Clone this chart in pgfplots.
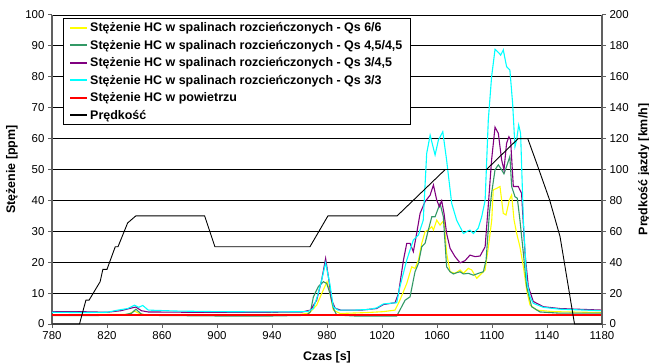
\documentclass[border=0pt]{standalone}
\usepackage{pgfplots}
\pgfplotsset{compat=1.18}
\usepackage{fontspec}
\setmainfont{Liberation Sans}
\definecolor{cyellow}{HTML}{FFFF00}
\definecolor{cgreen}{HTML}{339966}
\definecolor{cpurple}{HTML}{800080}
\definecolor{ccyan}{HTML}{00FFFF}
\definecolor{cred}{HTML}{FF0000}
\definecolor{axgray}{HTML}{606060}
\begin{document}
\begin{tikzpicture}
\pgfplotsset{
  every axis/.append style={
    scale only axis, width=550bp, height=309bp,
    xmin=780, xmax=1180,
    tick align=outside, major tick length=4bp,
    tick style={axgray, line width=1bp},
    axis line style={axgray, line width=1.3bp},
    /pgf/number format/assume math mode=true,
    /pgf/number format/1000 sep={},
    tick label style={font=\fontsize{11.5}{13}\selectfont},
    label style={font=\bfseries\fontsize{12.5}{14}\selectfont},
  }
}
\begin{axis}[
  name=ax,
  ymin=0, ymax=100,
  axis x line*=bottom, axis y line*=left,
  xtick={780,820,...,1180}, ytick={0,10,...,100},
  ymajorgrids, major grid style={black, line width=0.8bp},
  xlabel={Czas [s]}, ylabel={Stężenie [ppm]},
  xlabel style={at={(axis description cs:0.5,0)}, anchor=center, yshift=-33bp},
  ylabel style={at={(axis description cs:0,0.5)}, anchor=center, yshift=40bp},
  legend cell align=left,
  legend image code/.code={\draw[#1, line width=1.8bp] (7bp,0bp) -- (24bp,0bp);},
  legend style={at={(0.02,0.99)}, anchor=north west, draw=black, line width=0.9bp,
    fill=white, font=\bfseries\fontsize{12.5}{14}\selectfont, row sep=2.9bp, inner xsep=6bp},
]
\addplot[cyellow, line width=1.1bp] coordinates {(780,3.0)(835,3.1)(840,4.2)(843,3.5)(847,3)(900,3.0)(960,3.1)(967,3.5)(972.5,6.1)(976.2,9.9)(980,13.7)(982.2,9.9)(984.6,4.5)(989.5,3.4)(1008.9,3.7)(1021,4)(1029.5,4.5)(1033,7.7)(1038,13.1)(1041.6,18.5)(1044,18)(1046.5,20.7)(1048.9,26.1)(1051.3,29.9)(1053.7,30.4)(1056.2,31.5)(1057.4,30.4)(1059.8,33.6)(1062.2,32)(1065.1,33.6)(1067,22.9)(1069.5,16.9)(1073.1,16.4)(1076.8,17.5)(1079.2,16.4)(1082.8,18)(1085.2,17.5)(1088.9,14.8)(1092.5,16.4)(1095,17.5)(1097.4,25)(1099.8,33.6)(1100.9,43.4)(1103.4,43.9)(1105.8,44.5)(1108.2,35.8)(1110.2,35.3)(1112.6,40.1)(1114.3,41.8)(1116,33.7)(1117.9,29.4)(1120.3,25)(1122.8,18.6)(1125.2,11)(1127.6,6.2)(1132.5,4.5)(1144.6,4)(1180,3.7)};
\addlegendentry{Stężenie HC w spalinach rozcieńczonych - Qs 6/6}
\addplot[cgreen, line width=1.1bp] coordinates {(780,2.7)(830,2.8)(838,3.5)(841,4.8)(845,3.2)(850,2.8)(900,2.6)(940,2.6)(965,2.8)(968,4)(970.1,8.8)(973.7,12.1)(977.4,13.7)(979.8,13.1)(982.2,9.9)(984.6,5.1)(987.1,2.9)(1000,2.6)(1030.7,2.6)(1033,4.5)(1036.8,7.7)(1040.4,8.8)(1044,16.9)(1046.5,19.6)(1048.9,25)(1051.3,26.1)(1053.7,30.4)(1056.2,34.7)(1058.6,34.7)(1062.2,39)(1064.6,34.7)(1067,18.5)(1069.5,16.9)(1071.9,16.2)(1074.3,16.6)(1076.8,16.9)(1079.2,16.2)(1082.8,16.4)(1086.5,15.8)(1090.1,16.4)(1093.7,16.9)(1095.7,20.7)(1098.1,35.8)(1099.7,42.3)(1102.2,49.9)(1104.6,51.5)(1107,49.9)(1108.7,48.6)(1110.6,51)(1113,54.2)(1114.3,44.5)(1116.7,41.2)(1118.4,40.7)(1120.3,33.7)(1122.8,22.9)(1125.2,12.1)(1128.8,5.6)(1134.9,3.9)(1149.4,3.5)(1180,3.5)};
\addlegendentry{Stężenie HC w spalinach rozcieńczonych - Qs 4,5/4,5}
\addplot[cpurple, line width=1.1bp] coordinates {(780,4.0)(800,4.0)(820,3.8)(830,4.3)(838,5.2)(841,5.5)(845,4.3)(850,3.9)(880,3.8)(940,3.8)(962,3.9)(968,4.5)(972.5,7.7)(976,14)(979,21.2)(981,15.3)(983.4,7.7)(985.9,5.1)(990,4.5)(1005,4.5)(1016,5)(1021,6.3)(1029.5,6.9)(1032,9.9)(1035.6,20.7)(1038,26.1)(1040.4,26.1)(1042.8,23.4)(1045.2,29.3)(1047.7,35.8)(1051.3,39.6)(1055,41.7)(1057.4,45)(1059.8,40.1)(1061.7,38)(1063.4,39.9)(1065.1,35.8)(1067,29.3)(1069.5,24.5)(1073.1,21.8)(1076.8,19.8)(1080.4,20.5)(1084,22.3)(1087.7,21.8)(1091.3,22)(1095,25)(1097.4,39)(1099.7,53.1)(1102.2,63.7)(1104.6,61.7)(1107,53.1)(1108.7,49.9)(1110.6,58.5)(1112.3,60.6)(1113.5,59.6)(1115.5,44.5)(1119.1,44.5)(1121.5,42.3)(1124,22.9)(1126.4,12.1)(1130,7.3)(1137.3,5.6)(1149.4,5)(1180,4.5)};
\addlegendentry{Stężenie HC w spalinach rozcieńczonych - Qs 3/4,5}
\addplot[ccyan, line width=1.1bp] coordinates {(780,3.8)(800,3.7)(820,3.8)(828,4.5)(835,5)(840,6.1)(843,5.4)(846,6)(850,4.5)(870,4.2)(900,4)(940,3.9)(966,4.0)(970,5)(973,9)(976,14)(979,19.8)(982,13.1)(984.6,5.6)(988,4.5)(1000,4.5)(1010,4.7)(1016,5.2)(1021,6.5)(1030.7,6.9)(1033,12)(1038,20.7)(1042.8,27.2)(1046.5,28.8)(1050,33.6)(1052.5,55.2)(1055,61.1)(1058.6,54.7)(1061,59.5)(1064.2,62.2)(1067,53)(1070.7,39)(1074.3,33.6)(1079.2,29.3)(1082,30)(1084,30.4)(1086.5,29.3)(1090,31)(1092.5,34.7)(1095,40)(1097.3,66)(1099.7,80)(1102.2,88.9)(1105.3,87.6)(1106.3,87)(1108.2,88.7)(1110.6,83.3)(1113,82.2)(1115,71.4)(1116.7,57.4)(1117.9,59.6)(1119.4,64.4)(1120.8,61.7)(1122.8,33.7)(1125.2,14.3)(1127.6,8.9)(1130,6.7)(1137.3,5.4)(1149.4,4.8)(1180,4.3)};
\addlegendentry{Stężenie HC w spalinach rozcieńczonych - Qs 3/3}
\addplot[cred, line width=1.8bp] coordinates {(780,3)(1180,3)};
\addlegendentry{Stężenie HC w powietrzu}
\addlegendimage{black}
\addlegendentry{Prędkość}
\end{axis}
\begin{axis}[
  ymin=0, ymax=200,
  axis x line=none, axis y line*=right,
  ytick={0,20,...,200},
  ylabel={Prędkość jazdy [km/h]},
  ylabel style={at={(axis description cs:1,0.5)}, anchor=center, yshift=-42bp},
]
\addplot[black, line width=0.9bp] coordinates {(780,0)(800,0)(803,10)(804.7,15.5)(807,15.5)(815,27.4)(817,35.4)(820,35.4)(826,50)(828,50)(835,65.4)(841,70)(891,70)(898.5,50)(967.6,50)(980.7,70)(1031,70)(1066,100)(1096,100)(1119,120)(1126,120)(1132.5,104)(1142,80)(1149.5,56.5)(1160,0)(1180,0)};
\end{axis}
\pgfresetboundingbox
\path[use as bounding box] ([shift={(-52bp,-39bp)}]ax.south west) rectangle ([shift={(47bp,15bp)}]ax.north east);
\end{tikzpicture}
\end{document}
